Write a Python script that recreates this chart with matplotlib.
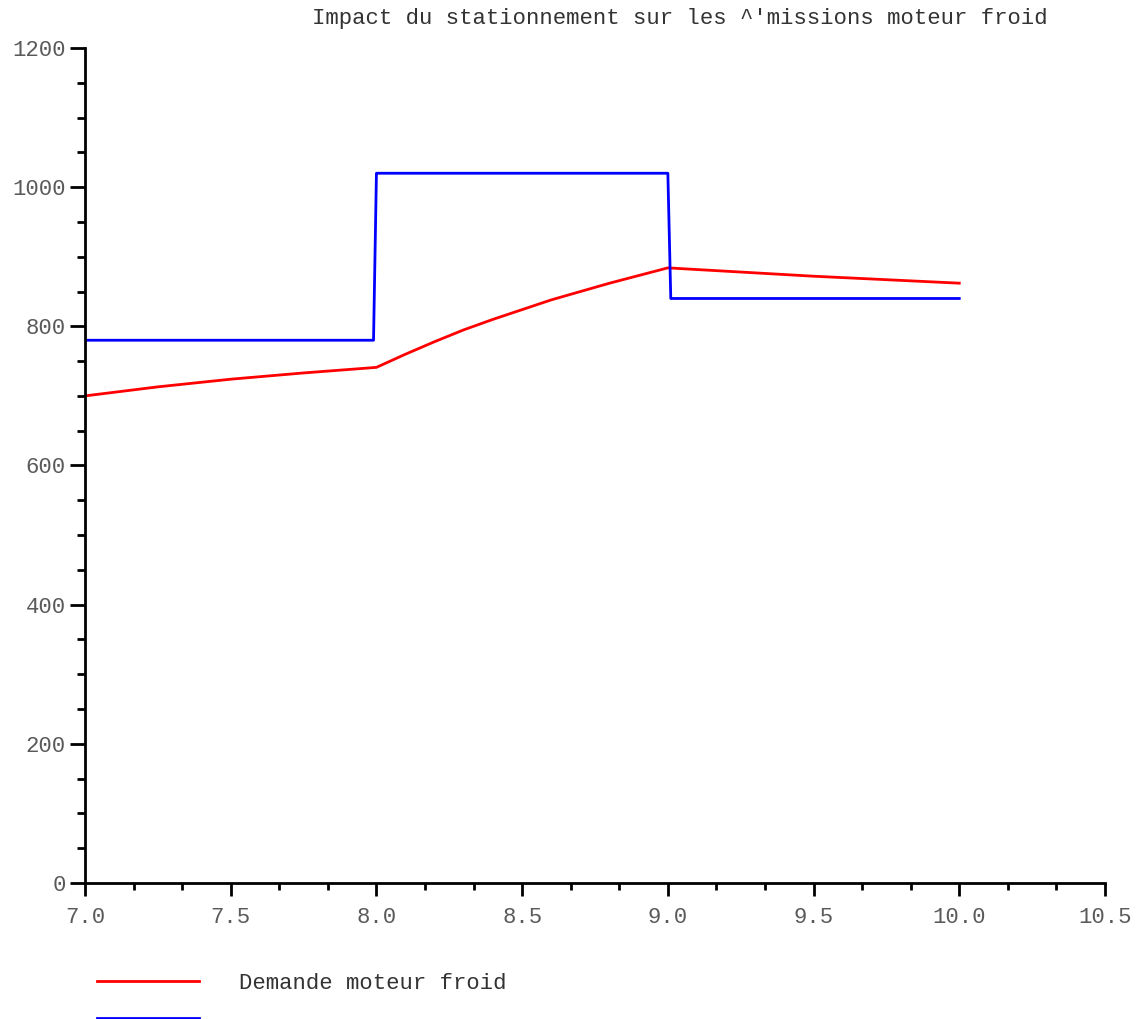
import matplotlib
matplotlib.use("Agg")
import matplotlib.pyplot as plt
from matplotlib.ticker import MultipleLocator

# Données
x_demande = [7.0, 7.25, 7.5, 7.75, 8.0, 8.1, 8.2, 8.3, 8.4, 8.5, 8.6, 8.7, 8.8, 8.9, 9.0, 9.5, 10.0]
y_demande = [700, 713, 724, 733, 741, 760, 778, 795, 810, 824, 838, 850, 862, 873, 884, 872, 862]

x_stationnement = [7.0, 7.99, 8.0, 9.0, 9.01, 10.0]
y_stationnement = [780, 780, 1020, 1020, 840, 840]

labels = ['Demande moteur froid', '']
titre = "Impact du stationnement sur les ^'missions moteur froid"

plt.rcParams['font.family'] = ['Liberation Mono', 'DejaVu Sans Mono']
gris = '#5a5a5a'

fig = plt.figure(figsize=(11.38, 10.19), dpi=100)
ax = fig.add_axes([0.0747, 0.1335, 0.8963, 0.8194])

l1, = ax.plot(x_demande, y_demande, color='red', lw=2)
l2, = ax.plot(x_stationnement, y_stationnement, color='blue', lw=2)

ax.set_xlim(7.0, 10.5)
ax.set_ylim(0, 1200)
ax.xaxis.set_major_locator(MultipleLocator(0.5))
ax.xaxis.set_minor_locator(MultipleLocator(0.5 / 3))
ax.yaxis.set_major_locator(MultipleLocator(200))
ax.yaxis.set_minor_locator(MultipleLocator(50))
ax.xaxis.set_major_formatter(lambda v, p: f"{v:.1f}")
ax.yaxis.set_major_formatter(lambda v, p: f"{v:.0f}")

for s in ['top', 'right']:
    ax.spines[s].set_visible(False)
for s in ['left', 'bottom']:
    ax.spines[s].set_linewidth(2)

ax.tick_params(axis='y', which='major', length=11, width=2, labelsize=16,
               labelcolor=gris, pad=3)
ax.tick_params(axis='y', which='minor', length=6, width=2)
ax.tick_params(axis='x', which='major', length=9, width=2, labelsize=16,
               labelcolor=gris, pad=8)
ax.tick_params(axis='x', which='minor', length=5, width=2)

fig.text(0.5975, 0.982, titre, ha='center', va='center', fontsize=16, color='#333333')

fig.legend([l1, l2], labels, loc='upper left', bbox_to_anchor=(0.0852, 0.045),
           frameon=False, fontsize=16, handlelength=4.6, handletextpad=1.8,
           labelspacing=0.72, labelcolor='#333333', borderaxespad=0, borderpad=0)

plt.savefig('out.png', dpi=100)
